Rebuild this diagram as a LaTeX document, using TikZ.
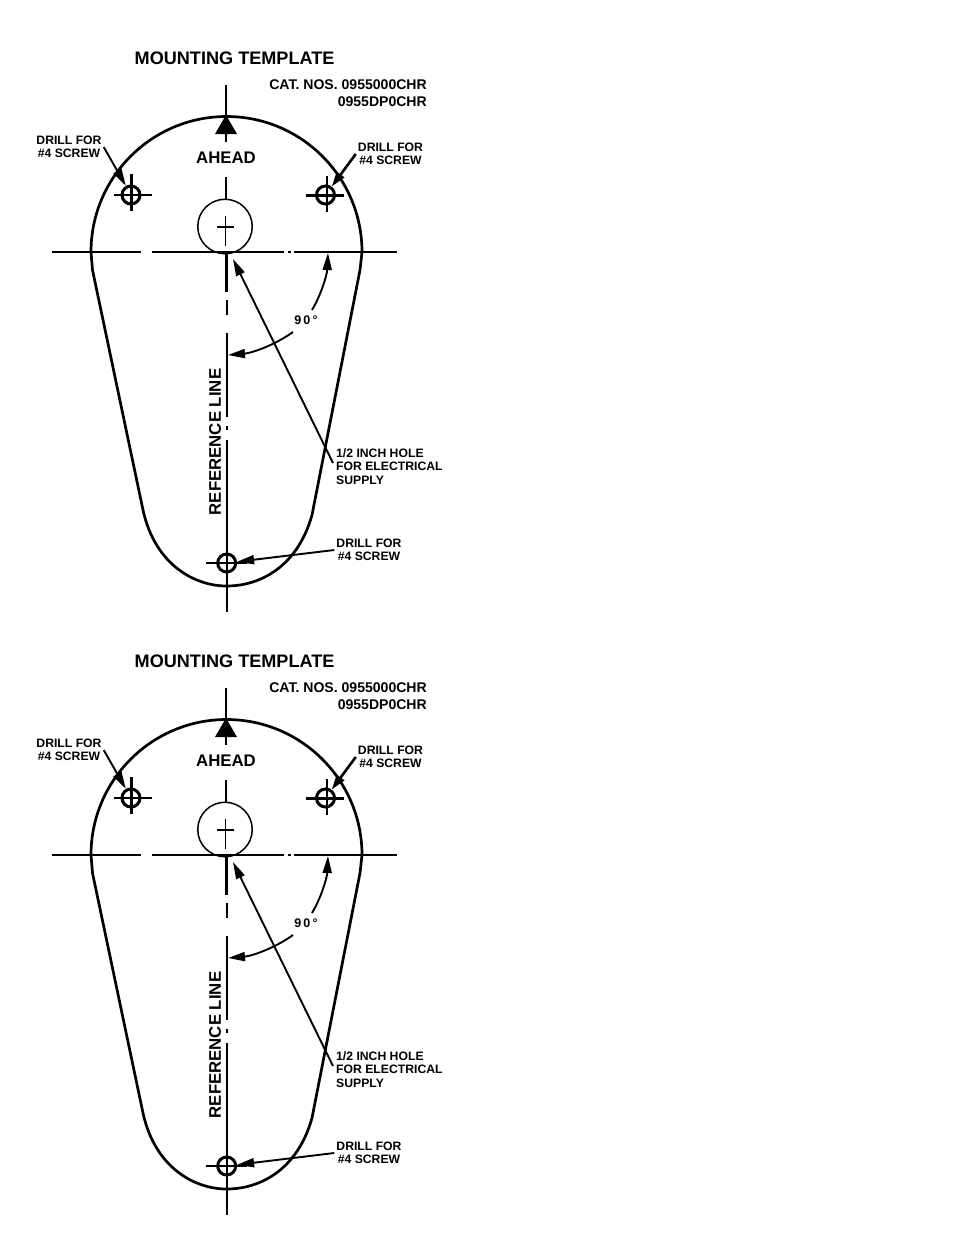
\documentclass[tikz,border=0pt]{standalone}
\usepackage{fontspec}
\setmainfont{Liberation Sans}
\usetikzlibrary{arrows.meta}
\tikzset{
  x=1pt,y=-1pt,
  outline/.style={line width=2.7pt,line join=round},
  axis/.style={line width=2.1pt},
  fine/.style={line width=1.5pt},
  hole/.style={circle,draw,line width=3pt,minimum size=18pt,inner sep=0pt},
  bore/.style={circle,draw,line width=1.5pt,minimum size=54.5pt,inner sep=0pt},
  leader/.style={line width=1.9pt,-{Triangle[length=17pt,width=9pt]}},
  thicklead/.style={line width=2.6pt,-{Triangle[length=15pt,width=9pt]}},
  lbl/.style={font=\bfseries\fontsize{12.2}{13.4}\selectfont,inner sep=2pt,align=center},
  lbll/.style={lbl,align=left},
  head/.style={font=\bfseries\fontsize{16.8}{18}\selectfont,inner sep=0pt},
  ttl/.style={font=\bfseries\fontsize{18.1}{20}\selectfont,inner sep=0pt,anchor=west},
  cat/.style={font=\bfseries\fontsize{14.05}{17}\selectfont,inner sep=0pt,anchor=east,align=right},
}
\newcommand{\mounttemplate}[2]{%
\begin{scope}[yshift=-#1pt,name prefix=#2-]
  % outline
  \draw[outline] (92.5,270) -- (91,252) arc[start angle=180,end angle=360,radius=135.5]
    -- (360,270) -- (312,515)
    .. controls (298,565) and (262,586) .. (226.5,586)
    .. controls (195,586) and (155,565) .. (143,510)
    -- cycle;
  % horizontal centre line
  \draw[axis] (52,252) -- (141,252) (152,252) -- (284,252) (288,252) -- (291,252) (294,252) -- (397,252);
  % vertical centre line
  \draw[axis] (226,85) -- (226,142) (226,177) -- (226,200) (226.5,253) -- (226.5,292)
    (226.8,300) -- (226.8,315) (226.8,333) -- (226.8,417) (226.8,426) -- (226.8,430) (226.6,440) -- (226.6,612);
  % ahead arrow
  \fill (226,115) -- (237,134) -- (215,134) -- cycle;
  % holes
  \node[bore] (supply) at (225,226.5) {};
  \draw[fine] (217,227) -- (234,227) (225.5,216) -- (225.5,246);
  \node[hole] (left) at (131,195) {};
  \node[hole] (right) at (325.5,195) {};
  \node[hole] (low) at (226.7,563) {};
  \draw[axis] (114,195) -- (152,195) (131.5,174) -- (131.5,211);
  \draw[axis] (306,195.5) -- (344,195.5) (327,176) -- (327,212);
  \draw[fine] (206,563) -- (247,563);
  % texts
  \node[ttl] (title) at (134.5,58) {MOUNTING TEMPLATE};
  \node[cat] (catno) at (427,93) {CAT. NOS. 0955000CHR\\0955DP0CHR};
  \node[head] (ahead) at (226,157.5) {AHEAD};
  \node[head,rotate=90] (refline) at (215,442) {REFERENCE LINE};
  \node[lbl] (lblleft) at (69,147) {DRILL FOR\\\#4 SCREW};
  \node[lbl] (lblright) at (390.5,154) {DRILL FOR\\\#4 SCREW};
  \node[lbl] (lbllow) at (369,550) {DRILL FOR\\\#4 SCREW};
  \node[lbll,anchor=north west] (lblsupply) at (334,446.5) {1/2 INCH HOLE\\FOR ELECTRICAL\\SUPPLY};
  \node[font=\bfseries\fontsize{12.5}{13}\selectfont,inner sep=0pt] (ninety) at (306,320.5) {9\,0\,°};
  % leaders
  \draw[leader] (lblleft.east) -- (left);
  \draw[thicklead] (lblright.west) -- (right);
  \draw[leader] (lbllow.west) -- (low);
  \coordinate (supplyend) at (333,463);
  \coordinate (supplytip) at (233,259);
  \draw[leader] (supplyend) -- (supplytip);
  % ninety degree arc
  \coordinate (arcA) at (312,310);
  \coordinate (arcB) at (328,253);
  \coordinate (arcC) at (293,332);
  \coordinate (arcD) at (228,355);
  \draw[leader] (arcA) .. controls (321,295) and (327,275) .. (arcB);
  \draw[leader] (arcC) .. controls (275,345) and (252,353) .. (arcD);
\end{scope}}
\begin{document}
\begin{tikzpicture}
  \useasboundingbox (0,0) rectangle (954,1235);
  \mounttemplate{0}{a}
  \mounttemplate{603}{b}
\end{tikzpicture}
\end{document}
